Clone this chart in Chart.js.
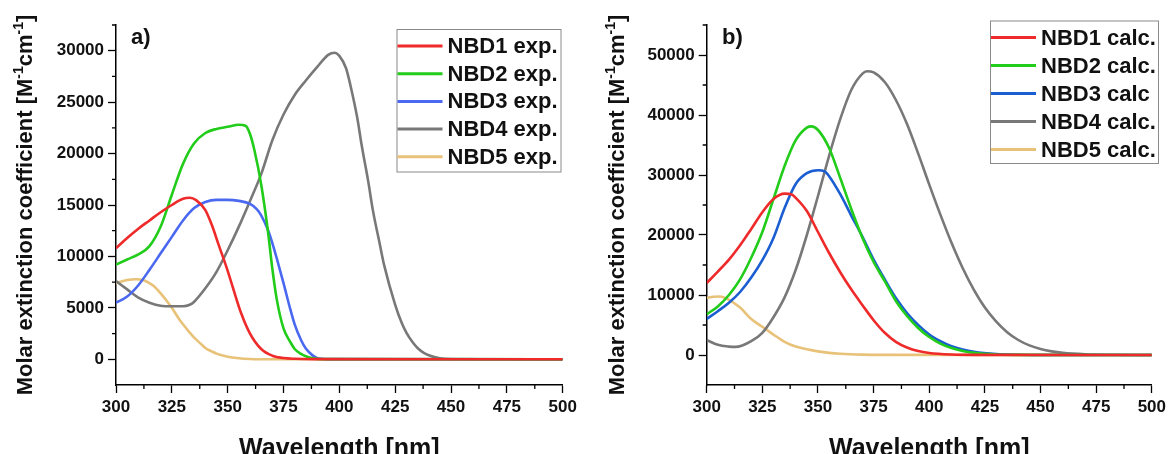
<!DOCTYPE html>
<html>
<head>
<meta charset="utf-8">
<script src="https://cdn.jsdelivr.net/npm/chart.js@4.4.1/dist/chart.umd.min.js"></script>
<style>
  html, body { margin: 0; padding: 0; background: #fff; }
  #wrap { position: relative; width: 1170px; height: 454px; overflow: hidden; }
  .panel { position: absolute; top: 0; width: 585px; height: 454px; }
  #pa { left: 0; }
  #pb { left: 585px; }
</style>
</head>
<body>
<div id="wrap">
  <div class="panel" id="pa"><canvas id="chartA"></canvas></div>
  <div class="panel" id="pb"><canvas id="chartB"></canvas></div>
</div>
<script>
// ============================================================
// DATA — panel a) experimental spectra (wavelength nm / epsilon)
// ============================================================
const nbd1ExpNm  = [300, 305, 310, 315, 320, 325, 330, 333, 336, 340, 343, 346, 350, 353, 356, 360, 365, 370, 375, 380, 390, 500];
const nbd1ExpEps = [10800, 11800, 12700, 13500, 14300, 15000, 15600, 15700, 15450, 14500, 13000, 11100, 8600, 6500, 4500, 2500, 1000, 350, 120, 50, 20, 0];

const nbd2ExpNm  = [300, 305, 310, 315, 320, 325, 330, 335, 340, 345, 350, 355, 358, 360, 362, 365, 368, 370, 372, 375, 378, 380, 383, 385, 388, 392, 500];
const nbd2ExpEps = [9200, 9700, 10200, 11000, 12900, 16000, 19000, 21000, 22000, 22400, 22600, 22800, 22700, 21900, 20300, 17000, 12500, 8800, 5800, 3000, 1700, 1000, 500, 300, 100, 20, 0];

const nbd3ExpNm  = [300, 305, 310, 315, 320, 325, 330, 335, 340, 345, 350, 355, 360, 363, 365, 368, 370, 372, 375, 378, 380, 383, 385, 388, 390, 395, 500];
const nbd3ExpEps = [5500, 6100, 7200, 8700, 10300, 11900, 13500, 14700, 15300, 15500, 15500, 15400, 15100, 14600, 14000, 12600, 11300, 9800, 7400, 4900, 3400, 1800, 1050, 380, 120, 20, 0];

const nbd4ExpNm  = [300, 305, 310, 315, 320, 325, 330, 333, 335, 340, 345, 350, 355, 360, 365, 370, 375, 380, 385, 390, 395, 398, 400, 403, 405, 408, 410, 413, 415, 418, 420, 425, 428, 430, 433, 435, 438, 440, 445, 450, 500];
const nbd4ExpEps = [7600, 6800, 6000, 5500, 5200, 5150, 5150, 5300, 5600, 6900, 8500, 10600, 12900, 15400, 18000, 21300, 23800, 25700, 27100, 28400, 29600, 29800, 29500, 28300, 26600, 23500, 20800, 17200, 14500, 11300, 9200, 5300, 3500, 2600, 1600, 1100, 600, 400, 100, 30, 0];

const nbd5ExpNm  = [300, 305, 309, 312, 315, 318, 320, 323, 325, 328, 330, 333, 335, 338, 340, 343, 345, 350, 355, 360, 370, 500];
const nbd5ExpEps = [7400, 7700, 7780, 7700, 7400, 6900, 6400, 5600, 5000, 4000, 3400, 2600, 2100, 1500, 1100, 750, 550, 250, 100, 30, 0, 0];

// ============================================================
// DATA — panel b) calculated spectra
// ============================================================
const nbd1CalcNm  = [300, 305, 310, 315, 320, 325, 330, 335, 338, 340, 345, 350, 355, 360, 365, 370, 375, 380, 385, 390, 395, 400, 410, 420, 500];
const nbd1CalcEps = [12000, 13900, 15900, 18300, 21000, 23800, 26000, 26900, 26800, 26200, 24000, 20500, 17000, 13800, 10900, 8300, 5800, 3700, 2200, 1250, 650, 330, 80, 15, 0];

const nbd2CalcNm  = [300, 305, 310, 315, 320, 325, 330, 335, 340, 345, 347, 350, 355, 360, 365, 370, 375, 380, 385, 390, 395, 400, 405, 410, 415, 420, 430, 440, 500];
const nbd2CalcEps = [6800, 8100, 10000, 12600, 16200, 20500, 26000, 31500, 35800, 37900, 38100, 37500, 34500, 29500, 24300, 19500, 15500, 12300, 9000, 6500, 4500, 3000, 1900, 1150, 650, 350, 80, 20, 0];

const nbd3CalcNm  = [300, 305, 310, 315, 320, 325, 330, 335, 340, 345, 350, 353, 355, 360, 365, 370, 375, 380, 385, 390, 395, 400, 405, 410, 415, 420, 430, 440, 450, 500];
const nbd3CalcEps = [6000, 7300, 8700, 10500, 12900, 15800, 19500, 24500, 28500, 30300, 30800, 30600, 29800, 26800, 23200, 19700, 15900, 12600, 9500, 7000, 5000, 3400, 2300, 1450, 900, 520, 150, 40, 10, 0];

const nbd4CalcNm  = [300, 305, 310, 313, 316, 320, 325, 330, 335, 340, 345, 350, 355, 360, 365, 370, 372, 375, 380, 385, 390, 395, 400, 405, 410, 415, 420, 425, 430, 435, 440, 445, 450, 455, 460, 470, 480, 500];
const nbd4CalcEps = [2500, 1700, 1400, 1350, 1600, 2300, 3700, 6300, 9600, 14200, 20000, 26500, 33200, 39300, 44200, 46900, 47300, 47100, 45500, 42500, 38500, 33600, 28400, 23400, 18700, 14500, 10900, 7900, 5600, 3800, 2500, 1600, 1000, 600, 350, 120, 40, 0];

const nbd5CalcNm  = [300, 303, 306, 310, 315, 320, 325, 330, 335, 340, 345, 350, 355, 360, 370, 380, 500];
const nbd5CalcEps = [9500, 9700, 9750, 9200, 7900, 6000, 4700, 3400, 2200, 1400, 950, 600, 350, 200, 60, 20, 0];

// ============================================================
// Ticks (major labelled, minor unlabelled)
// ============================================================
const xMajor  = [300, 325, 350, 375, 400, 425, 450, 475, 500];
const xMinor  = [312.5, 337.5, 362.5, 387.5, 412.5, 437.5, 462.5, 487.5];
const yMajorA = [0, 5000, 10000, 15000, 20000, 25000, 30000];
const yMinorA = [2500, 7500, 12500, 17500, 22500, 27500, 32500];
const yMajorB = [0, 10000, 20000, 30000, 40000, 50000];
const yMinorB = [5000, 15000, 25000, 35000, 45000, 55000];

const FONT = '"Liberation Sans", Arial, Helvetica, sans-serif';
Chart.defaults.font.family = FONT;
Chart.defaults.color = '#111';

const red = '#ee2a2a';
const green = '#22cc1a';
const blueExp = '#4a68f0';
const blueCalc = '#1a5ed2';
const grey = '#787878';
const sand = '#e8c278';

function series(label, nm, eps, color) {
  return {
    label: label,
    data: nm.map((x, i) => ({ x: x, y: eps[i] })),
    borderColor: color,
    backgroundColor: color,
    borderWidth: 2.6,
    pointRadius: 0,
    cubicInterpolationMode: 'monotone',
    fill: false
  };
}

// ============================================================
// Plugins: boxed legend, minor ticks, y title with superscripts, panel tag
// ============================================================
const boxLegend = {
  id: 'boxLegend',
  afterDraw(chart, args, o) {
    const ctx = chart.ctx;
    ctx.save();
    ctx.fillStyle = '#fff';
    ctx.fillRect(o.x, o.y, o.w, o.h);
    ctx.strokeStyle = '#8a8a8a';
    ctx.lineWidth = 1;
    ctx.strokeRect(o.x + 0.5, o.y + 0.5, o.w, o.h);
    ctx.font = 'bold 22px ' + FONT;
    ctx.textBaseline = 'middle';
    chart.data.datasets.forEach((ds, i) => {
      const cy = o.y + o.first + i * o.step;
      ctx.strokeStyle = ds.borderColor;
      ctx.lineWidth = 3;
      ctx.beginPath();
      ctx.moveTo(o.x + 1, cy);
      ctx.lineTo(o.x + o.lineLen, cy);
      ctx.stroke();
      ctx.fillStyle = '#111';
      ctx.fillText(ds.label, o.x + o.lineLen + 5, cy + 1);
    });
    ctx.restore();
  }
};

const minorTicks = {
  id: 'minorTicks',
  afterDraw(chart, args, o) {
    const { ctx, scales: { x, y } } = chart;
    ctx.save();
    ctx.strokeStyle = '#000';
    ctx.lineWidth = 1.3;
    ctx.beginPath();
    o.x.forEach((v) => {
      const px = x.getPixelForValue(v);
      ctx.moveTo(px, x.top);
      ctx.lineTo(px, x.top + 4);
    });
    o.y.forEach((v) => {
      const py = y.getPixelForValue(v);
      ctx.moveTo(y.right - 4, py);
      ctx.lineTo(y.right, py);
    });
    ctx.stroke();
    ctx.restore();
  }
};

const yTitle = {
  id: 'yTitle',
  afterDraw(chart, args, o) {
    const ctx = chart.ctx;
    const big = 'bold 22px ' + FONT;
    const small = 'bold 14px ' + FONT;
    const parts = [['Molar extinction coefficient [M', false], ['-1', true], ['cm', false], ['-1', true], [']', false]];
    ctx.save();
    let total = 0;
    parts.forEach((p) => { ctx.font = p[1] ? small : big; total += ctx.measureText(p[0]).width; });
    const cy = (chart.chartArea.top + chart.chartArea.bottom) / 2;
    ctx.translate(o.x, cy);
    ctx.rotate(-Math.PI / 2);
    ctx.fillStyle = '#111';
    ctx.textBaseline = 'alphabetic';
    let pos = -total / 2;
    parts.forEach((p) => {
      ctx.font = p[1] ? small : big;
      ctx.fillText(p[0], pos, p[1] ? -1 : 8);
      pos += ctx.measureText(p[0]).width;
    });
    ctx.restore();
  }
};

const panelTag = {
  id: 'panelTag',
  afterDraw(chart, args, o) {
    const ctx = chart.ctx;
    ctx.save();
    ctx.font = 'bold 22px ' + FONT;
    ctx.fillStyle = '#111';
    ctx.textBaseline = 'alphabetic';
    ctx.fillText(o.text, o.x, o.y);
    ctx.restore();
  }
};

function axes(yMin, yMax, yMajor, yWidth) {
  const tickFont = { size: 17, weight: 'bold' };
  const grid = { display: true, drawOnChartArea: false, drawTicks: true, tickLength: 8, tickColor: '#000', tickWidth: 1.3 };
  const border = { display: true, color: '#000', width: 1.5 };
  return {
    x: {
      type: 'linear', min: 300, max: 500,
      afterBuildTicks: (s) => { s.ticks = xMajor.map((v) => ({ value: v })); },
      afterFit: (s) => { s.height = 69; },
      ticks: { font: tickFont, color: '#111', padding: 4, maxRotation: 0, callback: (v) => String(v) },
      grid: grid, border: border,
      title: { display: true, text: 'Wavelength [nm]', font: { size: 25, weight: 'bold', lineHeight: 0.4 }, color: '#111', padding: 0 }
    },
    y: {
      type: 'linear', min: yMin, max: yMax,
      afterBuildTicks: (s) => { s.ticks = yMajor.map((v) => ({ value: v })); },
      afterFit: (s) => { s.width = yWidth; },
      ticks: { font: tickFont, color: '#111', padding: 4, callback: (v) => String(v) },
      grid: grid, border: border,
      title: { display: false }
    }
  };
}

new Chart(document.getElementById('chartA'), {
  type: 'line',
  data: {
    datasets: [
      series('NBD1 exp.', nbd1ExpNm, nbd1ExpEps, red),
      series('NBD2 exp.', nbd2ExpNm, nbd2ExpEps, green),
      series('NBD3 exp.', nbd3ExpNm, nbd3ExpEps, blueExp),
      series('NBD4 exp.', nbd4ExpNm, nbd4ExpEps, grey),
      series('NBD5 exp.', nbd5ExpNm, nbd5ExpEps, sand)
    ]
  },
  options: {
    responsive: true,
    maintainAspectRatio: false,
    animation: false,
    layout: { padding: { top: 25, right: 22.3, left: 0, bottom: 0 } },
    plugins: {
      legend: { display: false },
      tooltip: { enabled: false },
      boxLegend: { x: 396.5, y: 29, w: 164, h: 142.5, first: 17, step: 27.7, lineLen: 46 },
      minorTicks: { x: xMinor, y: yMinorA },
      yTitle: { x: 24 },
      panelTag: { text: 'a)', x: 131, y: 44 }
    },
    scales: axes(-2500, 32500, yMajorA, 116)
  },
  plugins: [minorTicks, yTitle, panelTag, boxLegend]
});

new Chart(document.getElementById('chartB'), {
  type: 'line',
  data: {
    datasets: [
      series('NBD1 calc.', nbd1CalcNm, nbd1CalcEps, red),
      series('NBD2 calc.', nbd2CalcNm, nbd2CalcEps, green),
      series('NBD3 calc', nbd3CalcNm, nbd3CalcEps, blueCalc),
      series('NBD4 calc.', nbd4CalcNm, nbd4CalcEps, grey),
      series('NBD5 calc.', nbd5CalcNm, nbd5CalcEps, sand)
    ]
  },
  options: {
    responsive: true,
    maintainAspectRatio: false,
    animation: false,
    layout: { padding: { top: 25, right: 17.3, left: 0, bottom: 0 } },
    plugins: {
      legend: { display: false },
      tooltip: { enabled: false },
      boxLegend: { x: 405, y: 20.5, w: 168, h: 142.5, first: 17, step: 28, lineLen: 46 },
      minorTicks: { x: xMinor, y: yMinorB },
      yTitle: { x: 30.5 },
      panelTag: { text: 'b)', x: 137, y: 44 }
    },
    scales: axes(-5000, 55000, yMajorB, 121.7)
  },
  plugins: [minorTicks, yTitle, panelTag, boxLegend]
});
</script>
</body>
</html>
